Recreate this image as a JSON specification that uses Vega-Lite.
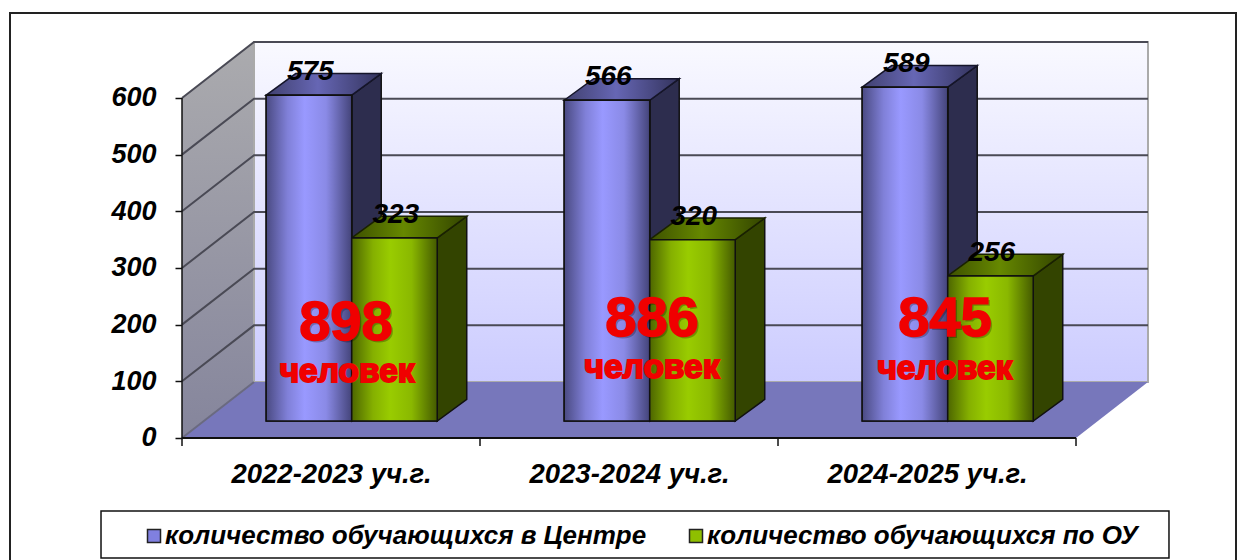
{
"$schema":"https://vega.github.io/schema/vega-lite/v6.json",
"width":1226,"height":548,"autosize":"none","padding":{"left":10,"top":13,"right":8,"bottom":0},
"background":"white",
"view":{"stroke":"#222","strokeWidth":2},
"config":{"text":{"font":"Liberation Sans"},"legend":{"labelFont":"Liberation Sans"}},
"resolve":{"axis":{"x":"independent","y":"independent"}},
"datasets":{
"bars":[
{"year":"2022-2023 уч.г.","series":"количество обучающихся в Центре","value":575},
{"year":"2022-2023 уч.г.","series":"количество обучающихся по ОУ","value":323},
{"year":"2023-2024 уч.г.","series":"количество обучающихся в Центре","value":566},
{"year":"2023-2024 уч.г.","series":"количество обучающихся по ОУ","value":320},
{"year":"2024-2025 уч.г.","series":"количество обучающихся в Центре","value":589},
{"year":"2024-2025 уч.г.","series":"количество обучающихся по ОУ","value":256}],
"totals":[
{"year":"2022-2023 уч.г.","total":898},
{"year":"2023-2024 уч.г.","total":886},
{"year":"2024-2025 уч.г.","total":845}],
"grid":[{"v":0},{"v":100},{"v":200},{"v":300},{"v":400},{"v":500},{"v":600}],
"cats":[{"c":0},{"c":1},{"c":2},{"c":3}],
"wall":[{"k":0},{"k":1},{"k":2},{"k":3}]
},
"layer":[
{"data":{"name":"wall"},
 "transform":[{"filter":"datum.k<2"},{"calculate":"[0,0.2416][datum.k]","as":"x"},{"calculate":"[0,98.8][datum.k]","as":"b"},{"calculate":"datum.b+600","as":"t"}],
 "mark":{"type":"area","color":{"x1":0,"y1":0,"x2":0,"y2":1,"gradient":"linear","stops":[{"offset":0,"color":"#ababae"},{"offset":1,"color":"#85859c"}]}},
 "encoding":{"x":{"field":"x","type":"quantitative","axis":null,"scale":{"domain":[-0.5772,3.5369],"zero":false,"nice":false}},
  "y":{"field":"t","type":"quantitative","axis":null,"scale":{"domain":[-217.05,749.96],"zero":false,"nice":false}},"y2":{"field":"b"}}},
{"mark":{"type":"rect","stroke":"#aaaaaa","strokeWidth":2,"color":{"x1":0,"y1":0,"x2":0,"y2":1,"gradient":"linear","stops":[{"offset":0,"color":"#f9f9ff"},{"offset":1,"color":"#ccccff"}]}},
 "data":{"values":[{"wall":"back"}]},
 "encoding":{"x":{"datum":0.2416,"type":"quantitative","axis":null},"x2":{"datum":3.2416},"y":{"datum":98.8,"type":"quantitative","axis":null},"y2":{"datum":698.8}}},
{"data":{"name":"wall"},
 "transform":[{"calculate":"[0,0.2416,3,3.2416][datum.k]","as":"x"},{"calculate":"[0,98.8,98.8,98.8][datum.k]","as":"t"},{"calculate":"[0,0,0,98.8][datum.k]","as":"b"}],
 "mark":{"type":"area","color":"#7777bb"},
 "encoding":{"x":{"field":"x","type":"quantitative","axis":null},"y":{"field":"t","type":"quantitative","axis":null},"y2":{"field":"b"}}},
{"data":{"name":"grid"},
 "transform":[{"filter":"datum.v>0"},{"calculate":"[0,1,2]","as":"k"},{"flatten":["k"]},{"calculate":"[0,0.2416,3.2416][datum.k]","as":"x"},{"calculate":"datum.v+[0,98.8,98.8][datum.k]","as":"y"}],
 "mark":{"type":"line","color":"#4a4a55","strokeWidth":2},
 "encoding":{"x":{"field":"x","type":"quantitative","axis":null},"y":{"field":"y","type":"quantitative","axis":null},"detail":{"field":"v"}}},
{"data":{"name":"grid"},
 "transform":[{"filter":"datum.v==0"},{"calculate":"[0,1]","as":"k"},{"flatten":["k"]},{"calculate":"[0,0.2416][datum.k]","as":"x"},{"calculate":"[0,98.8][datum.k]","as":"y"}],
 "mark":{"type":"line","color":"#6a6a80","strokeWidth":2},
 "encoding":{"x":{"field":"x","type":"quantitative","axis":null},"y":{"field":"y","type":"quantitative","axis":null}}},
{"data":{"name":"bars"},
 "transform":[{"calculate":"indexof(['2022-2023 уч.г.','2023-2024 уч.г.','2024-2025 уч.г.'],datum.year)","as":"i"},{"calculate":"datum.series=='количество обучающихся в Центре'?0:1","as":"s"},{"filter":"datum.s==0"},{"calculate":"datum.i+0.2825","as":"x0"},{"calculate":"datum.x0+0.287","as":"x1"},{"calculate":"[0,1]","as":"t"},{"flatten":["t"]},{"calculate":"datum.x1+0.099*datum.t","as":"x"},{"calculate":"30+38.1*datum.t","as":"b"},{"calculate":"datum.b+datum.value","as":"top"}],
 "mark":{"type":"area","color":"#2d2d4e","stroke":"#111","strokeWidth":1.5},
 "encoding":{"x":{"field":"x","type":"quantitative","axis":null},"y":{"field":"top","type":"quantitative","axis":null},"y2":{"field":"b"},"detail":{"field":"i"}}},
{"data":{"name":"bars"},
 "transform":[{"calculate":"indexof(['2022-2023 уч.г.','2023-2024 уч.г.','2024-2025 уч.г.'],datum.year)","as":"i"},{"calculate":"datum.series=='количество обучающихся в Центре'?0:1","as":"s"},{"filter":"datum.s==1"},{"calculate":"datum.i+0.2825+0.287","as":"x0"},{"calculate":"datum.x0+0.287","as":"x1"},{"calculate":"[0,1]","as":"t"},{"flatten":["t"]},{"calculate":"datum.x1+0.099*datum.t","as":"x"},{"calculate":"30+38.1*datum.t","as":"b"},{"calculate":"datum.b+datum.value","as":"top"}],
 "mark":{"type":"area","color":"#334400","stroke":"#111","strokeWidth":1.5},
 "encoding":{"x":{"field":"x","type":"quantitative","axis":null},"y":{"field":"top","type":"quantitative","axis":null},"y2":{"field":"b"},"detail":{"field":"i"}}},
{"data":{"name":"bars"},
 "transform":[{"calculate":"indexof(['2022-2023 уч.г.','2023-2024 уч.г.','2024-2025 уч.г.'],datum.year)","as":"i"},{"filter":"datum.series=='количество обучающихся в Центре'"},{"calculate":"datum.i+0.2825","as":"x0"},{"calculate":"[0,1,2,3]","as":"k"},{"flatten":["k"]},{"calculate":"datum.x0+[0,0.099,0.287,0.386][datum.k]","as":"x"},{"calculate":"30+datum.value+[0,38.1,38.1,38.1][datum.k]","as":"top"},{"calculate":"30+datum.value+[0,0,0,38.1][datum.k]","as":"b"}],
 "mark":{"type":"area","stroke":"#15152a","strokeWidth":1.5,"color":{"x1":0,"y1":0,"x2":1,"y2":0,"gradient":"linear","stops":[{"offset":0,"color":"#40406e"},{"offset":0.45,"color":"#6666b4"},{"offset":1,"color":"#33335c"}]}},
 "encoding":{"x":{"field":"x","type":"quantitative","axis":null},"y":{"field":"top","type":"quantitative","axis":null},"y2":{"field":"b"},"detail":{"field":"i"}}},
{"data":{"name":"bars"},
 "transform":[{"calculate":"indexof(['2022-2023 уч.г.','2023-2024 уч.г.','2024-2025 уч.г.'],datum.year)","as":"i"},{"filter":"datum.series=='количество обучающихся по ОУ'"},{"calculate":"datum.i+0.2825+0.287","as":"x0"},{"calculate":"[0,1,2,3]","as":"k"},{"flatten":["k"]},{"calculate":"datum.x0+[0,0.099,0.287,0.386][datum.k]","as":"x"},{"calculate":"30+datum.value+[0,38.1,38.1,38.1][datum.k]","as":"top"},{"calculate":"30+datum.value+[0,0,0,38.1][datum.k]","as":"b"}],
 "mark":{"type":"area","stroke":"#1a2200","strokeWidth":1.5,"color":{"x1":0,"y1":0,"x2":1,"y2":0,"gradient":"linear","stops":[{"offset":0,"color":"#3d5000"},{"offset":0.45,"color":"#668800"},{"offset":1,"color":"#334400"}]}},
 "encoding":{"x":{"field":"x","type":"quantitative","axis":null},"y":{"field":"top","type":"quantitative","axis":null},"y2":{"field":"b"},"detail":{"field":"i"}}},
{"data":{"name":"bars"},
 "transform":[{"calculate":"indexof(['2022-2023 уч.г.','2023-2024 уч.г.','2024-2025 уч.г.'],datum.year)","as":"i"},{"calculate":"datum.series=='количество обучающихся в Центре'?0:1","as":"s"},{"calculate":"datum.i+0.2825+0.287*datum.s","as":"x0"},{"calculate":"datum.x0+0.287","as":"x1"},{"calculate":"30+datum.value","as":"top"}],
 "mark":{"type":"rect","stroke":"#111","strokeWidth":1.5},
 "encoding":{"x":{"field":"x0","type":"quantitative","axis":null},"x2":{"field":"x1"},"y":{"field":"top","type":"quantitative","axis":null},"y2":{"datum":30},
  "color":{"field":"series","type":"nominal","sort":["количество обучающихся в Центре","количество обучающихся по ОУ"],
   "scale":{"domain":["количество обучающихся в Центре","количество обучающихся по ОУ"],"range":["#8080e0","#8fbf00"]},
   "legend":{"title":null,"orient":"none","legendX":131,"legendY":510,"direction":"horizontal","padding":0,"symbolType":"square","symbolSize":169,"symbolStrokeColor":"#222","symbolStrokeWidth":1.5,"labelFont":"Liberation Sans","labelFontSize":26,"labelFontStyle":"italic","labelFontWeight":"bold","labelColor":"#000","labelLimit":700,"columnPadding":36,"labelOffset":-2,"symbolOffset":0,"rowPadding":0}}}},
{"data":{"name":"bars"},
 "transform":[{"filter":"datum.series=='количество обучающихся в Центре'"},{"calculate":"indexof(['2022-2023 уч.г.','2023-2024 уч.г.','2024-2025 уч.г.'],datum.year)","as":"i"},{"calculate":"datum.i+0.2825","as":"x0"},{"calculate":"datum.x0+0.287","as":"x1"},{"calculate":"30+datum.value","as":"top"}],
 "mark":{"type":"rect","stroke":"#111","strokeWidth":1.5,"color":{"x1":0,"y1":0,"x2":1,"y2":0,"gradient":"linear","stops":[{"offset":0,"color":"#4a4a82"},{"offset":0.25,"color":"#8080d8"},{"offset":0.45,"color":"#9999ff"},{"offset":0.7,"color":"#8a8ae6"},{"offset":1,"color":"#44447a"}]}},
 "encoding":{"x":{"field":"x0","type":"quantitative","axis":null},"x2":{"field":"x1"},"y":{"field":"top","type":"quantitative","axis":null},"y2":{"datum":30}}},
{"data":{"name":"bars"},
 "transform":[{"filter":"datum.series=='количество обучающихся по ОУ'"},{"calculate":"indexof(['2022-2023 уч.г.','2023-2024 уч.г.','2024-2025 уч.г.'],datum.year)","as":"i"},{"calculate":"datum.i+0.2825+0.287","as":"x0"},{"calculate":"datum.x0+0.287","as":"x1"},{"calculate":"30+datum.value","as":"top"}],
 "mark":{"type":"rect","stroke":"#111","strokeWidth":1.5,"color":{"x1":0,"y1":0,"x2":1,"y2":0,"gradient":"linear","stops":[{"offset":0,"color":"#4d6600"},{"offset":0.25,"color":"#85b000"},{"offset":0.45,"color":"#99cc00"},{"offset":0.7,"color":"#8ab800"},{"offset":1,"color":"#445a00"}]}},
 "encoding":{"x":{"field":"x0","type":"quantitative","axis":null},"x2":{"field":"x1"},"y":{"field":"top","type":"quantitative","axis":null},"y2":{"datum":30}}},
{"data":{"name":"bars"},
 "transform":[{"calculate":"indexof(['2022-2023 уч.г.','2023-2024 уч.г.','2024-2025 уч.г.'],datum.year)","as":"i"},{"calculate":"datum.series=='количество обучающихся в Центре'?0:1","as":"s"},{"calculate":"datum.i+0.2825+0.287*datum.s+0.148","as":"x"},{"calculate":"30+datum.value","as":"y"}],
 "mark":{"type":"text","font":"Liberation Sans","fontSize":28,"fontStyle":"italic","fontWeight":"bold","color":"#000","baseline":"alphabetic","dy":-15},
 "encoding":{"x":{"field":"x","type":"quantitative","axis":null},"y":{"field":"y","type":"quantitative","axis":null},"text":{"field":"value","type":"nominal"}}},
{"data":{"name":"totals"},
 "transform":[{"calculate":"indexof(['2022-2023 уч.г.','2023-2024 уч.г.','2024-2025 уч.г.'],datum.year)","as":"i"},{"calculate":"[0.55,1.577,2.56][datum.i]","as":"x"},{"calculate":"[173,180,180][datum.i]","as":"y"}],
 "mark":{"type":"text","font":"Liberation Sans","fontSize":56,"fontWeight":"bold","color":"#000","opacity":0.25,"baseline":"alphabetic","dx":2,"dy":2},
 "encoding":{"x":{"field":"x","type":"quantitative","axis":null},"y":{"field":"y","type":"quantitative","axis":null},"text":{"field":"total","type":"nominal"}}},
{"data":{"name":"totals"},
 "transform":[{"calculate":"indexof(['2022-2023 уч.г.','2023-2024 уч.г.','2024-2025 уч.г.'],datum.year)","as":"i"},{"calculate":"[0.55,1.577,2.56][datum.i]","as":"x"},{"calculate":"[173,180,180][datum.i]","as":"y"}],
 "mark":{"type":"text","font":"Liberation Sans","fontSize":56,"fontWeight":"bold","color":"#f00000","stroke":"#f00000","strokeWidth":1.5,"baseline":"alphabetic"},
 "encoding":{"x":{"field":"x","type":"quantitative","axis":null},"y":{"field":"y","type":"quantitative","axis":null},"text":{"field":"total","type":"nominal"}}},
{"data":{"name":"totals"},
 "transform":[{"calculate":"indexof(['2022-2023 уч.г.','2023-2024 уч.г.','2024-2025 уч.г.'],datum.year)","as":"i"},{"calculate":"[0.554,1.577,2.56][datum.i]","as":"x"},{"calculate":"[99,106,104][datum.i]","as":"y"}],
 "mark":{"type":"text","font":"Liberation Sans","fontSize":33.5,"fontWeight":"bold","color":"#f00000","stroke":"#f00000","strokeWidth":2,"baseline":"alphabetic","text":"человек"},
 "encoding":{"x":{"field":"x","type":"quantitative","axis":null},"y":{"field":"y","type":"quantitative","axis":null}}},
{"data":{"values":[{"a":"legend box"}]},
 "mark":{"type":"rect","filled":false,"stroke":"#111","strokeWidth":1.5},
 "encoding":{"x":{"datum":-0.2718,"type":"quantitative","axis":null},"x2":{"datum":3.312},"y":{"datum":-128.8,"type":"quantitative","axis":null},"y2":{"datum":-211.8}}},
{"data":{"name":"cats"},
 "mark":{"type":"rule","color":"#111","strokeWidth":1.5},
 "encoding":{"x":{"field":"c","type":"quantitative","axis":{"title":null,"orient":"bottom","offset":-123,"domain":false,"ticks":false,"grid":false,"values":[0.5,1.5,2.5],"labelExpr":"datum.value==0.5?'2022-2023 уч.г.':datum.value==1.5?'2023-2024 уч.г.':'2024-2025 уч.г.'","labelFont":"Liberation Sans","labelFontSize":27.5,"labelFontStyle":"italic","labelFontWeight":"bold","labelColor":"#000","labelPadding":22,"labelLimit":400}},
  "y":{"datum":0,"type":"quantitative","axis":null},"y2":{"datum":-14}}},
{"data":{"name":"grid"},
 "mark":{"type":"rule","color":"#111","strokeWidth":1.5},
 "encoding":{"x":{"datum":0,"type":"quantitative","axis":null},"x2":{"datum":3},"y":{"datum":0,"type":"quantitative","axis":{"title":null,"orient":"left","offset":-172,"domain":false,"grid":false,"values":[0,100,200,300,400,500,600],"tickSize":7,"tickColor":"#111","tickWidth":1.5,"labelFont":"Liberation Sans","labelFontSize":27,"labelFontStyle":"italic","labelFontWeight":"bold","labelColor":"#000","labelPadding":19}}}},
{"data":{"values":[{"a":"axis"}]},
 "mark":{"type":"rule","color":"#111","strokeWidth":1.5},
 "encoding":{"x":{"datum":0,"type":"quantitative","axis":null},"y":{"datum":0,"type":"quantitative","axis":null},"y2":{"datum":600}}}
]
}
